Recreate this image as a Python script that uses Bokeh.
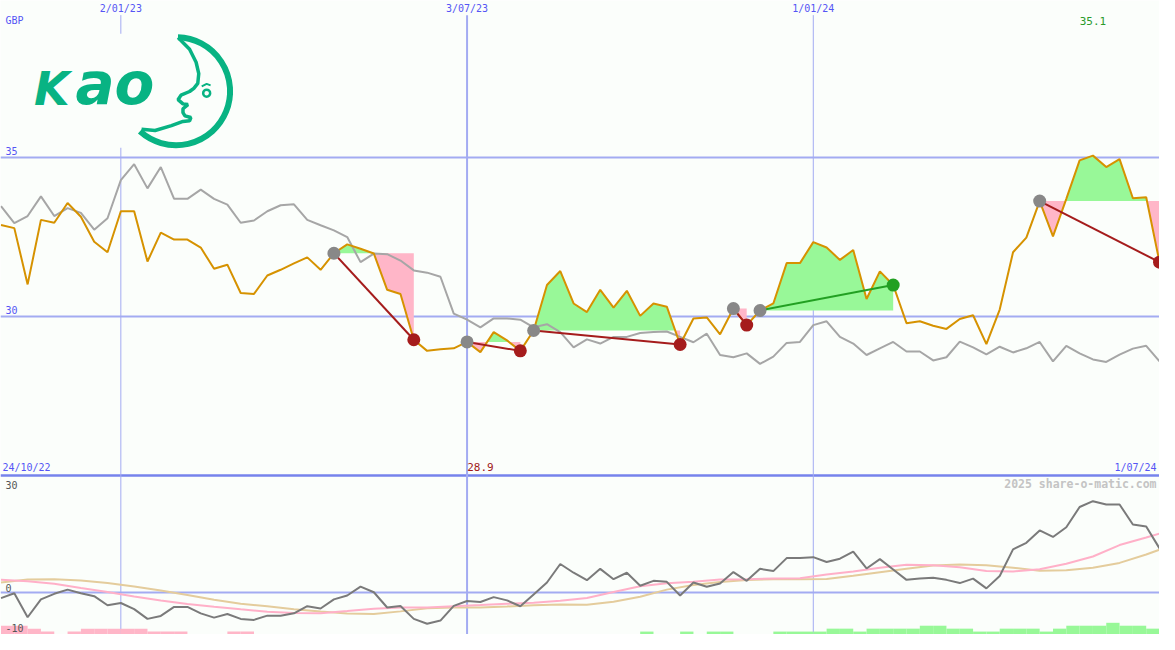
import numpy as np
import pandas as pd
from bokeh.plotting import figure
from bokeh.models import Range1d, Span, Label
from bokeh.embed import file_html
from bokeh.resources import INLINE

# ---------------- data ----------------
start_date = "2022-10-31"          # first weekly point
price = [32.88, 32.78, 31.01, 33.04, 32.95, 33.57, 33.14, 32.35, 32.02, 33.31,
         33.31, 31.73, 32.64, 32.42, 32.42, 32.17, 31.50, 31.63, 30.74, 30.71,
         31.29, 31.47, 31.67, 31.86, 31.47, 31.99, 32.27, 32.13, 31.98, 30.84,
         30.71, 29.27, 28.92, 28.97, 29.00, 29.20, 28.88, 29.51, 29.25, 28.92,
         29.56, 30.99, 31.43, 30.41, 30.14, 30.84, 30.28, 30.81, 30.02, 30.41,
         30.31, 29.12, 29.94, 29.97, 29.44, 30.25, 29.73, 30.19, 30.41, 31.68,
         31.68, 32.34, 32.17, 31.78, 32.09, 30.55, 31.42, 30.99, 29.79, 29.85,
         29.71, 29.61, 29.92, 30.04, 29.13, 30.22, 32.02, 32.48, 33.63, 32.52,
         33.70, 34.91, 35.06, 34.70, 34.95, 33.72, 33.75, 31.71]
benchmark = [33.47, 32.94, 33.16, 33.78, 33.16, 33.41, 33.26, 32.73, 33.09, 34.29,
             34.79, 34.03, 34.70, 33.70, 33.70, 33.99, 33.70, 33.52, 32.95, 33.02,
             33.31, 33.50, 33.53, 33.04, 32.87, 32.71, 32.50, 31.71, 31.98, 31.96,
             31.76, 31.45, 31.38, 31.25, 30.09, 29.90, 29.66, 29.94, 29.94, 29.90,
             29.66, 29.76, 29.51, 29.03, 29.28, 29.15, 29.36, 29.36, 29.48, 29.51,
             29.53, 29.36, 29.19, 29.46, 28.79, 28.72, 28.84, 28.51, 28.74, 29.17,
             29.20, 29.73, 29.85, 29.36, 29.15, 28.79, 29.00, 29.20, 28.90, 28.90,
             28.62, 28.72, 29.21, 29.03, 28.81, 29.05, 28.87, 29.00, 29.20, 28.59,
             29.08, 28.84, 28.65, 28.57, 28.80, 28.99, 29.08, 28.59]
relative = [-1.55, -0.19, -6.90, -1.91, -0.35, 0.82, -0.19, -1.01, -3.55, -2.92,
            -4.64, -7.36, -6.54, -4.01, -4.01, -5.81, -7.01, -6.00, -7.36, -7.64,
            -6.46, -6.46, -5.81, -3.82, -4.45, -1.91, -0.82, 1.64, 0.08, -4.17,
            -3.74, -7.36, -8.73, -7.83, -3.74, -2.37, -2.65, -1.28, -2.18, -3.82,
            -0.55, 2.81, 7.99, 5.54, 3.46, 6.63, 3.74, 5.54, 1.91, 3.27,
            3.00, -0.82, 2.81, 1.64, 2.54, 5.73, 3.27, 6.63, 6.00, 9.63,
            9.63, 9.90, 8.54, 9.46, 11.45, 6.74, 9.35, 6.46, 3.55, 3.90,
            4.17, 3.55, 2.65, 3.90, 1.17, 4.64, 12.08, 13.91, 17.37, 15.54,
            18.27, 23.92, 25.55, 24.63, 24.63, 19.01, 18.46, 12.35]
# smooth averages, read every second week (plus the last week)
rel_avg_fast = [3.55, 3.14, 2.45, 1.28, 0.14, -1.09, -2.24, -3.19, -3.95, -4.69,
                -5.37, -5.73, -5.81, -5.18, -4.50, -4.17, -4.17, -3.82, -3.49, -3.14,
                -2.86, -2.32, -1.50, 0.14, 1.77, 2.59, 3.00, 3.68, 3.74, 3.90,
                4.01, 5.04, 5.86, 6.95, 7.77, 7.64, 7.09, 6.05, 5.92, 6.54,
                8.04, 10.09, 13.28, 15.41, 16.50]
rel_avg_slow = [2.81, 3.63, 3.74, 3.38, 2.65, 1.69, 0.55, -0.71, -1.99, -3.16,
                -3.85, -4.66, -5.32, -5.86, -6.00, -5.26, -4.36, -4.17, -4.17, -3.90,
                -3.55, -3.35, -3.44, -2.59, -1.15, 0.82, 2.10, 2.95, 3.49, 3.74,
                3.74, 3.82, 4.69, 5.70, 6.65, 7.58, 7.83, 7.64, 6.95, 6.11,
                6.22, 6.95, 8.29, 10.64, 12.00]
# weekly signal strength bars (negative = pink, positive = green)
signal = [-3, -3, -2, -1, 0, -1, -2, -2, -2, -2,
          -2, -1, -1, -1, 0, 0, 0, -1, -1, 0,
          0, 0, 0, 0, 0, 0, 0, 0, 0, 0,
          0, 0, 0, 0, 0, 0, 0, 0, 0, 0,
          0, 0, 0, 0, 0, 0, 0, 0, 1, 0,
          0, 1, 0, 1, 1, 0, 0, 0, 1, 1,
          1, 1, 2, 2, 1, 2, 2, 2, 2, 3,
          3, 2, 2, 1, 1, 2, 2, 2, 1, 2,
          3, 3, 3, 4, 3, 3, 2, 2]
entry_week = [25, 35, 40, 55, 57, 78]
exit_week = [31, 39, 51, 56, 67, 87]
grid_dates = ["2023-01-02", "2023-07-03", "2024-01-01"]
grid_labels = ["2/01/23", "3/07/23", "1/01/24"]
price_ticks = [35, 30]
ind_ticks = [30, 0, -10]
first_label = "24/10/22"
last_label = "1/07/24"
currency = "GBP"
credit = "2025 share-o-matic.com"

# ---------------- layout / styles ----------------
W, H = 1159, 634
RW, RH = 1175, 650
DAY_MS = 86400000.0
PX_PER_DAY = 1.9286
PX_PER_GBP = 32.6
PX_PER_PCT = 3.667
PANEL_SPLIT = 25.0

BG = "#fbfefb"
GRID = "#a3abf2"
SPLIT = "#7683ec"
BLUE_TXT = "#5555f5"
ORANGE = "#d69200"
GREYLINE = "#a6a6a6"
DARKLINE = "#7a7a7a"
FILL_UP = "#98f898"
FILL_DN = "#ffb6c8"
LOSS = "#a51c1c"
GAIN = "#22a022"
LOGO = "#08b383"
MONO = "DejaVu Sans Mono"
BASE_SHIFT = 0.40   # em; compensates the text baseline placement of the renderer

dates = pd.date_range(start_date, periods=len(price), freq="7D")
t = dates.asi8 / 1e6
X_START = t[0] - 0.5 / PX_PER_DAY * DAY_MS
X_END = X_START + RW / PX_PER_DAY * DAY_MS
Y_TOP = 30 + 324 / PX_PER_GBP
Y_BOT = 30 - (RH - 324) / PX_PER_GBP
I_TOP = 607 / PX_PER_PCT
I_BOT = -(RH - 607) / PX_PER_PCT


def xr(px):
    return X_START + px / PX_PER_DAY * DAY_MS


def yr(py):
    return Y_TOP - py / PX_PER_GBP


p = figure(width=W, height=H, x_range=Range1d(X_START, X_END),
           y_range=Range1d(Y_BOT, Y_TOP), x_axis_location=None, y_axis_location=None,
           output_backend="svg", toolbar_location=None, min_border=0,
           background_fill_color=BG, border_fill_color=BG, outline_line_color=None)
p.xgrid.visible = False
p.ygrid.visible = False
p.extra_y_ranges = {"ind": Range1d(I_BOT, I_TOP), "bars": Range1d(0, RH / 3.0)}

# horizontal grid lines
for v in price_ticks:
    p.add_layout(Span(location=v, dimension="width", line_color=GRID, line_width=2, level="underlay"))
p.add_layout(Span(location=0, dimension="width", line_color=GRID, line_width=2,
                  level="underlay", y_range_name="ind"))
p.add_layout(Span(location=PANEL_SPLIT, dimension="width", line_color=SPLIT, line_width=2.5,
                  level="underlay"))

# vertical grid lines
gx = np.array([pd.Timestamp(d).value / 1e6 for d in grid_dates])
p.segment(x0=gx, y0=yr(15), x1=gx, y1=Y_BOT, line_color=GRID, line_width=[1, 2, 1])


# texts
def lab(x, ypx_or_val, text, color, align="left", size=10, style="normal", font=MONO,
        yrn="default", val=False):
    if val:
        unit = PX_PER_PCT if yrn == "ind" else PX_PER_GBP
        y = ypx_or_val + BASE_SHIFT * size / unit
    else:
        y = yr(ypx_or_val - BASE_SHIFT * size)
    p.add_layout(Label(x=x, y=y, text=text, text_color=color, text_align=align,
                       text_baseline="alphabetic", text_font=font, text_font_size=f"{size}px",
                       text_font_style=style, y_range_name=yrn))


# logo (decoration)
p.quad(left=xr(24), right=xr(242), top=yr(34), bottom=yr(151), fill_color=BG, line_color=None)
lab(xr(34), 109, "K", LOGO, size=46, style="bold italic", font="DejaVu Sans")
lab(xr(76), 109, "ao", LOGO, size=58, style="bold italic", font="DejaVu Sans")
p.arc(x=[xr(178)], y=[yr(93)], radius=54, radius_units="screen", start_angle=-132,
      end_angle=88, start_angle_units="deg", end_angle_units="deg", direction="anticlock",
      line_color=LOGO, line_width=6)
face_px = [180, 191.7, 198.3, 201, 200, 196, 191.7, 183, 180, 185, 190, 185, 185, 187,
           193, 191.7, 185, 173.3, 156.7, 143]
face_py = [38, 50, 63.3, 75, 85, 90, 93.3, 97, 101.7, 106, 106.7, 111, 115, 118.3,
           120, 123.3, 124, 128.3, 133.3, 132]
p.line([xr(v) for v in face_px], [yr(v) for v in face_py], line_color=LOGO, line_width=3.5)
p.scatter([xr(209)], [yr(95)], size=7, marker="circle", fill_color=BG, line_color=LOGO, line_width=2.5)
p.line([xr(204), xr(209), xr(213)], [yr(88), yr(85.5), yr(87)], line_color=LOGO, line_width=2)

# trade fills
pr = np.array(price, dtype=float)
for e, x_ in zip(entry_week, exit_week):
    lvl = pr[e]
    xs, ys = [t[e]], [pr[e]]
    for i in range(e, x_):
        a, b = pr[i] - lvl, pr[i + 1] - lvl
        if a * b < 0:
            f = a / (a - b)
            xs.append(t[i] + f * (t[i + 1] - t[i]))
            ys.append(lvl)
        xs.append(t[i + 1])
        ys.append(pr[i + 1])
    ys = np.array(ys)
    lv = np.full(len(ys), lvl)
    p.varea(x=xs, y1=lv, y2=np.maximum(ys, lvl), fill_color=FILL_UP)
    p.varea(x=xs, y1=np.minimum(ys, lvl), y2=lv, fill_color=FILL_DN)

# price & benchmark
p.line(t, benchmark, line_color=GREYLINE, line_width=2)
p.line(t, price, line_color=ORANGE, line_width=2)

# trend lines and markers
for e, x_ in zip(entry_week, exit_week):
    col = GAIN if pr[x_] > pr[e] else LOSS
    p.line([t[e], t[x_]], [pr[e], pr[x_]], line_color=col, line_width=2)
ent = np.array(entry_week)
ext = np.array(exit_week)
p.scatter(t[ent], pr[ent], size=13, marker="circle", fill_color="#888888", line_color=None)
ext_col = [GAIN if pr[b] > pr[a] else LOSS for a, b in zip(entry_week, exit_week)]
p.scatter(t[ext], pr[ext], size=13, marker="circle", fill_color=ext_col, line_color=None)

# lower panel
sg = np.array(signal)
half = 3.5 * DAY_MS
neg = sg < 0
pos = sg > 0
p.vbar(x=t[neg] + half, width=7 * DAY_MS, bottom=0, top=-sg[neg], y_range_name="bars",
       fill_color=FILL_DN, line_color=None)
p.vbar(x=t[pos] + half, width=7 * DAY_MS, bottom=0, top=sg[pos], y_range_name="bars",
       fill_color=FILL_UP, line_color=None)
t_avg = np.concatenate([t[::2], t[-1:]])
p.line(t_avg, rel_avg_slow, line_color="#e4cc9c", line_width=2, y_range_name="ind")
p.line(t_avg, rel_avg_fast, line_color="#ffb0c8", line_width=2, y_range_name="ind")
p.line(t, relative, line_color=DARKLINE, line_width=2, y_range_name="ind")

for gxv, gl in zip(gx, grid_labels):
    lab(gxv, 12.5, gl, BLUE_TXT, align="center")
lab(xr(5), 25, currency, BLUE_TXT)
for v in price_ticks:
    lab(xr(5), v + 2.5 / PX_PER_GBP, str(v), BLUE_TXT, val=True)
imax = int(np.argmax(pr))
imin = int(np.argmin(pr))
lab(t[imax], 25, f"{pr[imax]:.1f}", "#2a9a2a", align="center", size=11)
lab(xr(2), 483, first_label, BLUE_TXT)
lab(t[imin], 483, f"{pr[imin]:.1f}", "#a01818", align="center", size=11)
lab(xr(1172), 483, last_label, BLUE_TXT, align="right")
lab(xr(1172), 500, credit, "#c4c4c4", align="right", size=11.5, style="bold")
lab(xr(5), 30 - 3.5 / PX_PER_PCT, "30", "#555555", yrn="ind", val=True)
lab(xr(5), 0 + 1.0 / PX_PER_PCT, "0", "#555555", yrn="ind", val=True)
lab(xr(5), -10 - 3.5 / PX_PER_PCT, "-10", "#555555", yrn="ind", val=True)

open("out.html", "w").write(file_html(p, INLINE))
